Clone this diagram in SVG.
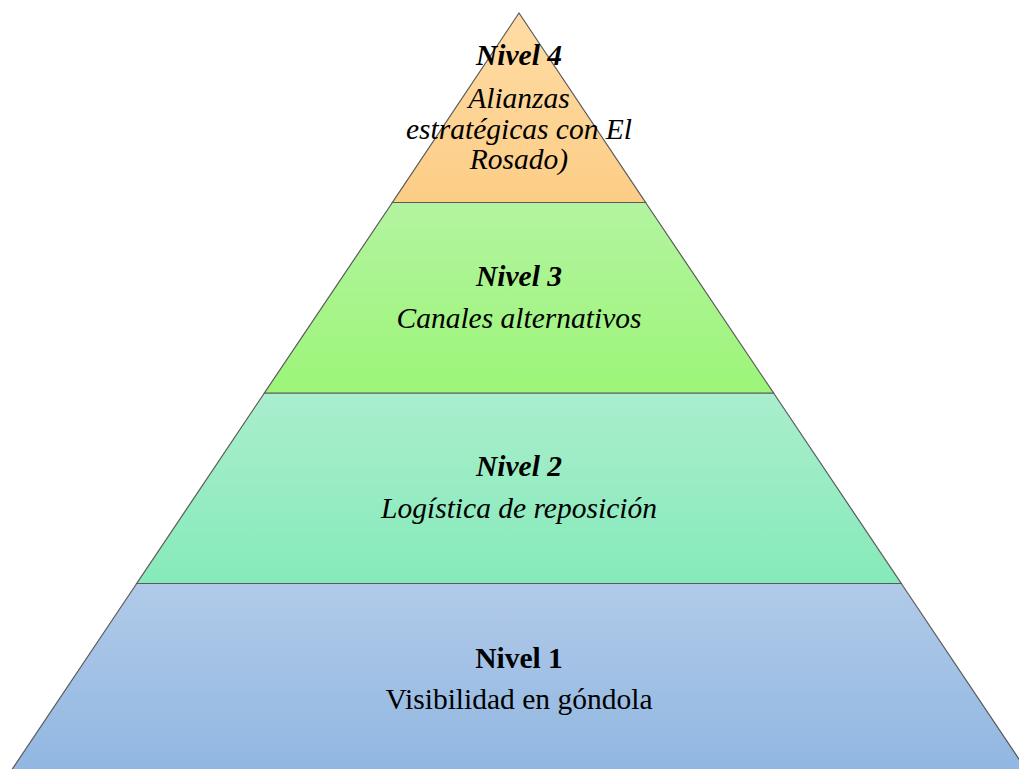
<svg xmlns="http://www.w3.org/2000/svg" width="1019" height="769" viewBox="0 0 1019 769">
<style>
.band{stroke:#5a5a5a;stroke-width:1.2}
.t{font-family:"Liberation Serif","Times New Roman",serif;font-size:29.5px;fill:#000;text-anchor:middle}
.it{font-style:italic}
.b{font-weight:bold}
</style>
<defs>
<linearGradient id="g4" x1="0" y1="0" x2="0" y2="1"><stop offset="0" stop-color="#FFDCA6"/><stop offset="1" stop-color="#FCCD85"/></linearGradient>
<linearGradient id="g3" x1="0" y1="0" x2="0" y2="1"><stop offset="0" stop-color="#B3F4A0"/><stop offset="1" stop-color="#9CF578"/></linearGradient>
<linearGradient id="g2" x1="0" y1="0" x2="0" y2="1"><stop offset="0" stop-color="#AAEECD"/><stop offset="1" stop-color="#86EABA"/></linearGradient>
<linearGradient id="g1" x1="0" y1="0" x2="0" y2="1"><stop offset="0" stop-color="#B1CAE8"/><stop offset="1" stop-color="#91B7E2"/></linearGradient>
</defs>
<g id="nivel1">
<polygon class="band" points="136.7,583.5 901.3,583.5 1027,771 11,771" fill="url(#g1)"/>
<text class="t b" x="519" y="668">Nivel 1</text>
<text class="t" x="519" y="709">Visibilidad en góndola</text>
</g>
<g id="nivel2">
<polygon class="band" points="264.4,393 773.6,393 901.3,583.5 136.7,583.5" fill="url(#g2)"/>
<text class="t b it" x="519" y="476">Nivel 2</text>
<text class="t it" x="519" y="518">Logística de reposición</text>
</g>
<g id="nivel3">
<polygon class="band" points="392.4,202.5 645.6,202.5 773.6,393 264.4,393" fill="url(#g3)"/>
<text class="t b it" x="519" y="286">Nivel 3</text>
<text class="t it" x="519" y="328">Canales alternativos</text>
</g>
<g id="nivel4">
<polygon class="band" points="519,13 645.6,202.5 392.4,202.5" fill="url(#g4)"/>
<text class="t b it" x="519" y="65">Nivel 4</text>
<text class="t it" x="519" y="108">Alianzas</text>
<text class="t it" x="519" y="139">estratégicas con El</text>
<text class="t it" x="519" y="169">Rosado)</text>
</g>
<g id="connectors"/>
</svg>
